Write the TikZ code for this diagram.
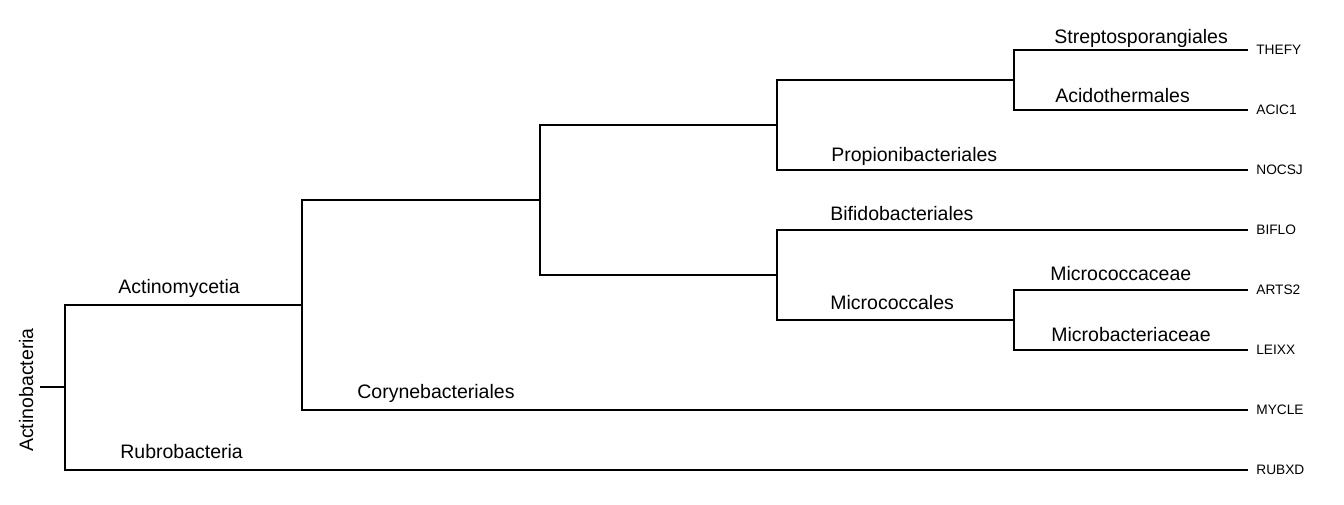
\documentclass[tikz,border=0pt]{standalone}
\usepackage{fontspec}
\setmainfont{Liberation Sans}
\usepackage{tikz}

\begin{document}
\begin{tikzpicture}[x=0.02cm, y=-0.02cm,
    branch/.style={line width=0.7pt},
    clade/.style={anchor=base west, inner sep=0pt, font=\fontsize{11.1}{13}\selectfont},
    leaf/.style={anchor=west, inner xsep=0.16cm, inner ysep=0pt, font=\fontsize{7.8}{9}\selectfont}]
    \useasboundingbox (0,0) rectangle (1344,504);
    % Internal nodes
    \coordinate (stub) at (40,387);
    \coordinate (root) at (65,387);
    \coordinate (actino) at (302,305);
    \coordinate (n1) at (540,200);
    \coordinate (n2) at (777,125);
    \coordinate (n3) at (1014,80);
    \coordinate (n4) at (777,275);
    \coordinate (n5) at (1014,320);
    % Tips
    \node[leaf] (thefy) at (1248,50) {THEFY};
    \node[leaf] (acic1) at (1248,110) {ACIC1};
    \node[leaf] (nocsj) at (1248,170) {NOCSJ};
    \node[leaf] (biflo) at (1248,230) {BIFLO};
    \node[leaf] (arts2) at (1248,290) {ARTS2};
    \node[leaf] (leixx) at (1248,350) {LEIXX};
    \node[leaf] (mycle) at (1248,410) {MYCLE};
    \node[leaf] (rubxd) at (1248,470) {RUBXD};
    % Branches
    \draw[branch] (stub) -- (root);
    \draw[branch] (root) |- (actino);
    \draw[branch] (root) |- (rubxd.west);
    \draw[branch] (actino) |- (n1);
    \draw[branch] (actino) |- (mycle.west);
    \draw[branch] (n1) |- (n2);
    \draw[branch] (n1) |- (n4);
    \draw[branch] (n2) |- (n3);
    \draw[branch] (n2) |- (nocsj.west);
    \draw[branch] (n3) |- (thefy.west);
    \draw[branch] (n3) |- (acic1.west);
    \draw[branch] (n4) |- (biflo.west);
    \draw[branch] (n4) |- (n5);
    \draw[branch] (n5) |- (arts2.west);
    \draw[branch] (n5) |- (leixx.west);
    % Clade labels
    \node[clade] (strep) at (1054,43) {Streptosporangiales};
    \node[clade] (acido) at (1055,102) {Acidothermales};
    \node[clade] (propi) at (831,161) {Propionibacteriales};
    \node[clade] (bifido) at (830,220) {Bifidobacteriales};
    \node[clade] (mcales) at (830,309) {Micrococcales};
    \node[clade] (mcceae) at (1050,280) {Micrococcaceae};
    \node[clade] (mbceae) at (1051,341) {Microbacteriaceae};
    \node[clade] (myceta) at (118,293) {Actinomycetia};
    \node[clade] (rubro) at (120,458) {Rubrobacteria};
    \node[clade] (coryne) at (357,398) {Corynebacteriales};
    \node[clade, anchor=base, rotate=90] (actinob) at (33,390) {Actinobacteria};
\end{tikzpicture}
\end{document}
